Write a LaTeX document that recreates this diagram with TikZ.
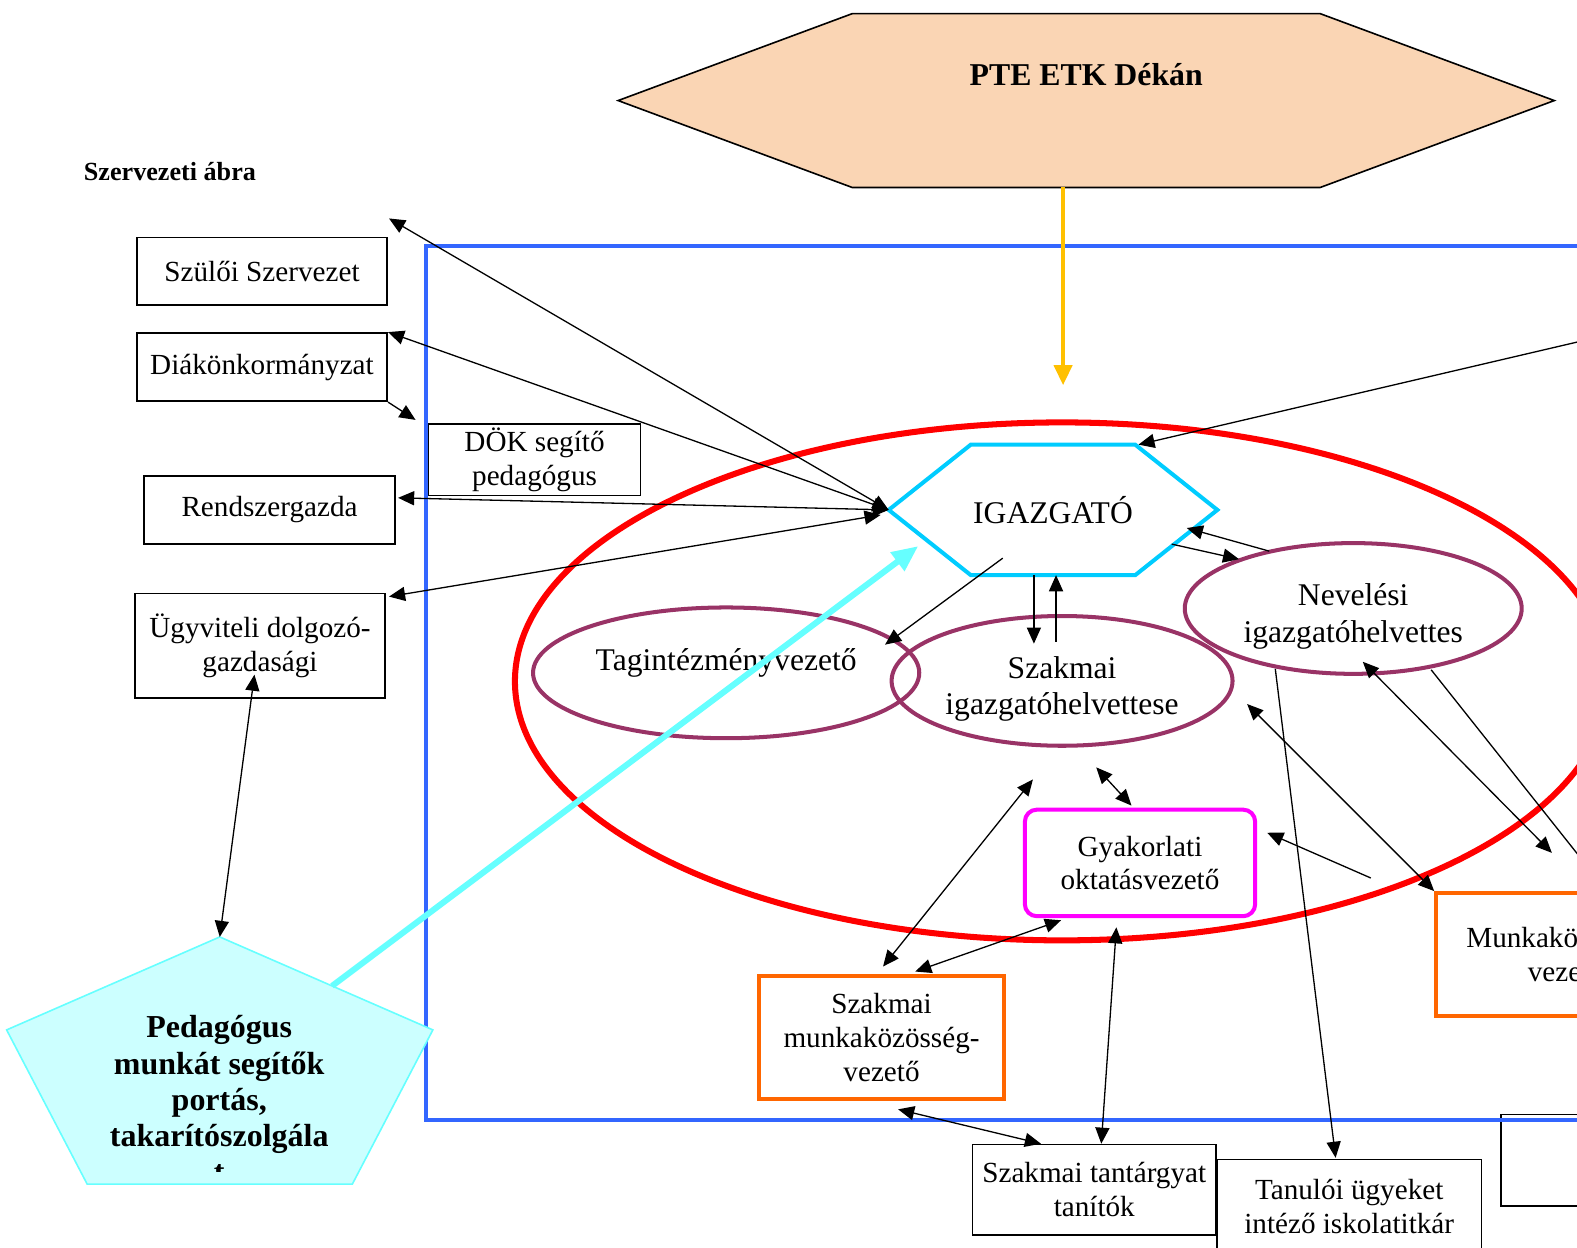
\documentclass[tikz,border=0pt]{standalone}
\usepackage{fontspec}
\setmainfont{Liberation Serif}
\usepackage{tikz}
\usetikzlibrary{positioning,arrows.meta,shapes.geometric,calc,backgrounds}
\definecolor{dekanpeach}{RGB}{250,213,180}
\definecolor{igazcyan}{RGB}{0,204,255}
\definecolor{pedcyan}{RGB}{102,255,255}
\definecolor{pedfill}{RGB}{204,255,255}
\definecolor{helypurple}{RGB}{153,51,102}
\definecolor{mkorange}{RGB}{255,102,0}
\definecolor{gyakpink}{RGB}{255,0,255}
\definecolor{keretblue}{RGB}{51,102,255}
\definecolor{dekangold}{RGB}{255,192,0}
\tikzset{
  box/.style={draw=black, line width=0.8pt, align=center, inner sep=2pt, font=\fontsize{14.5}{16.8}\selectfont},
  mkbox/.style={box, draw=mkorange, line width=2pt},
  gyakbox/.style={box, draw=gyakpink, line width=2pt, rounded corners=6pt},
  helyettes/.style={ellipse, draw=helypurple, line width=2pt, inner sep=0pt, align=center, font=\fontsize{15.7}{18}\selectfont},
  helyszoveg/.style={align=center, inner sep=0pt, font=\fontsize{15.7}{18}\selectfont},
  arr/.style={-{Triangle[length=8pt,width=7pt]}, line width=0.65pt},
  darr/.style={{Triangle[length=8pt,width=7pt]}-{Triangle[length=8pt,width=7pt]}, line width=0.65pt},
  vonal/.style={line width=0.65pt},
  pedarr/.style={-{Triangle[length=13pt,width=11pt]}, line width=3pt, draw=pedcyan},
  dekanarr/.style={-{Triangle[length=10pt,width=9pt]}, line width=2pt, draw=dekangold},
}
% hexagon through the anchors of a node
\newcommand{\hatszog}[2]{%
  \draw[#2] (#1.west) -- ($(#1.north west)!.25!(#1.north east)$) -- ($(#1.north west)!.75!(#1.north east)$)
    -- (#1.east) -- ($(#1.south west)!.75!(#1.south east)$) -- ($(#1.south west)!.25!(#1.south east)$) -- cycle;}
\begin{document}
\begin{tikzpicture}[x=0.5pt,y=-0.5pt]
  \useasboundingbox (0,0) rectangle (1568,1240);
  \clip (0,0) rectangle (1568,1240);

  % frames
  \node[box, minimum width=123.5pt, minimum height=45.5pt] (jobbalso) at (1616,1153.5) {};
  \draw[keretblue, line width=2pt] (1700,245) -- (424,245) -- (424,1114) -- (1700,1114);
  \draw[red, line width=3pt] (1056,677.5) ellipse [x radius=544, y radius=257.5];

  \node[anchor=west, inner sep=0pt, font=\bfseries\fontsize{13}{15}\selectfont] (cim) at (83,171) {Szervezeti ábra};

  % dekan
  \node[minimum width=465pt, minimum height=86pt, inner sep=0pt, font=\bfseries\fontsize{15.8}{18}\selectfont] (dekan) at (1080,100) {\raisebox{26pt}{PTE ETK Dékán}};
  \begin{scope}[on background layer]
    \hatszog{dekan}{draw=black, line width=0.8pt, fill=dekanpeach}
  \end{scope}
  \coordinate (dekancel) at (1057,383);
  \draw[dekanarr] ($(dekan.south)+(-23,0)$) -- (dekancel);

  % igazgato
  \node[minimum width=163pt, minimum height=64.5pt, inner sep=0pt, font=\fontsize{15.7}{18}\selectfont] (ig) at (1047,507) {IGAZGATÓ};
  \hatszog{ig}{draw=igazcyan, line width=2pt}

  % helyettesek
  \node[helyettes, minimum width=192pt, minimum height=65pt] (tag) at (722,669) {\raisebox{13pt}{Tagintézményvezető}};
  \node[helyettes, minimum width=169.5pt, minimum height=64.5pt] (szak) at (1056,677) {};
  \node[helyszoveg] (szakszoveg) at ($(szak.center)+(0,8)$) {Szakmai\\igazgatóhelvettese};
  \node[helyettes, minimum width=167.5pt, minimum height=65pt] (nev) at (1345.5,605) {};
  \node[helyszoveg] (nevszoveg) at ($(nev.center)+(0,8)$) {Nevelési\\igazgatóhelvettes};

  % left side
  \node[box, minimum width=124.5pt, minimum height=33.5pt] (szulo) at (260.5,269.5) {Szülői Szervezet};
  \node[box, minimum width=124.5pt, minimum height=34pt] (diak) at (260.5,365) {Diákönkormányzat};
  \node[box, minimum width=105.5pt, minimum height=34pt] (dok) at (531.5,457) {DÖK segítő\\pedagógus};
  \node[box, minimum width=125pt, minimum height=34pt] (rendsz) at (268,507) {Rendszergazda};
  \node[box, minimum width=124.5pt, minimum height=52pt] (ugyv) at (258.5,642) {Ügyviteli dolgozó-\\gazdasági};

  % lower part
  \node[gyakbox, minimum width=114.5pt, minimum height=53pt] (gyak) at (1133.5,858) {Gyakorlati\\oktatásvezető};
  \node[mkbox, minimum width=121.5pt, minimum height=61.5pt] (szmk) at (876.5,1031.5) {Szakmai\\munkaközösség-\\vezető};
  \node[mkbox, minimum width=129pt, minimum height=61pt] (munk) at (1557,949) {Munkaközösség-\\vezető};
  \node[box, minimum width=121pt, minimum height=45pt] (tant) at (1088,1183) {Szakmai tantárgyat\\tanítók};
  \node[box, minimum width=131.5pt, minimum height=46.5pt] (tanul) at (1341.5,1199.5) {Tanulói ügyeket\\intéző iskolatitkár};

  % pedagogus
  \node[minimum width=211.5pt, minimum height=122.5pt, inner sep=0pt] (ped) at (218.5,1054.5) {};
  \coordinate (pedjobb) at ($(ped.north east)!.376!(ped.south east)$);
  \draw[draw=pedcyan, line width=0.8pt, fill=pedfill] (ped.north) -- (pedjobb)
    -- ($(ped.south west)!.811!(ped.south east)$) -- ($(ped.south west)!.189!(ped.south east)$)
    -- ($(ped.north west)!.376!(ped.south west)$) -- cycle;
  \begin{scope}
    \clip (0,900) rectangle (440,1165);
    \node[align=center, font=\bfseries\fontsize{15.9}{18}\selectfont] (pedszoveg) at (218,1093) {Pedagógus\\munkát segítők\\portás,\\takarítószolgála\\t};
  \end{scope}
  \draw[pedarr] ($(ped.north)!.527!(pedjobb)$) -- ($(ig.center)+(-134,36)$);

  % connectors
  \draw[darr] ($(szulo.north east)+(1,-18)$) -- (ig.west);
  \draw[darr] (diak.north east) -- (ig.west);
  \draw[darr] ($(rendsz.east)+(2,-12)$) -- (ig.west);
  \draw[darr] ($(ugyv.north east)+(3,4)$) -- ($(ig.west)+(-8,5)$);
  \draw[arr] (diak.south east) -- ($(dok.north west)+(-12,-3)$);
  \draw[darr] ($(ugyv.south)+(-5.5,-24)$) -- (ped.north);
  \coordinate (jobbfent) at (1620,328);
  \draw[arr] (jobbfent) -- ($(ig.north west)!.76!(ig.north east)$);
  \draw[arr] ($(ig.center)+(-50,48)$) -- ($(tag.center)+(158,-28)$);
  \draw[arr] ($(ig.south)+(-19,0)$) -- ($(szak.center)+(-28,-37)$);
  \draw[arr] ($(szak.center)+(-6,-39)$) -- ($(ig.south)+(3,0)$);
  \draw[arr] ($(nev.center)+(-83.5,-57)$) -- ($(ig.center)+(133,18)$);
  \draw[arr] ($(ig.center)+(118,34)$) -- ($(nev.center)+(-113.5,-49)$);
  \draw[darr] ($(szak.center)+(184,23)$) -- (munk.north west);
  \coordinate (jobbkozep) at (1543,848);
  \draw[darr] ($(nev.center)+(9.5,53)$) -- (jobbkozep);
  \coordinate (jobbalul) at (1620,914);
  \draw[vonal] ($(nev.center)+(77.5,61)$) -- (jobbalul);
  \draw[arr] ($(nev.center)+(-77.5,60)$) -- ($(tanul.north)+(-13.5,-1)$);
  \coordinate (gyakjobb) at (1363,873);
  \draw[arr] (gyakjobb) -- ($(gyak.east)+(10,-30)$);
  \draw[darr] ($(szak.center)+(34,86)$) -- ($(gyak.north)+(-8.5,-2)$);
  \draw[darr] ($(szak.center)+(-29,98)$) -- ($(szmk.north)+(1.5,-7)$);
  \draw[darr] ($(gyak.south)+(-78.5,2)$) -- ($(szmk.north)+(33.5,-2)$);
  \draw[darr] ($(gyak.south)+(-23.5,9)$) -- ($(tant.north)+(7,0)$);
  \draw[darr] ($(szmk.south)+(16.5,8)$) -- ($(tant.north)+(-53,0)$);
\end{tikzpicture}
\end{document}
